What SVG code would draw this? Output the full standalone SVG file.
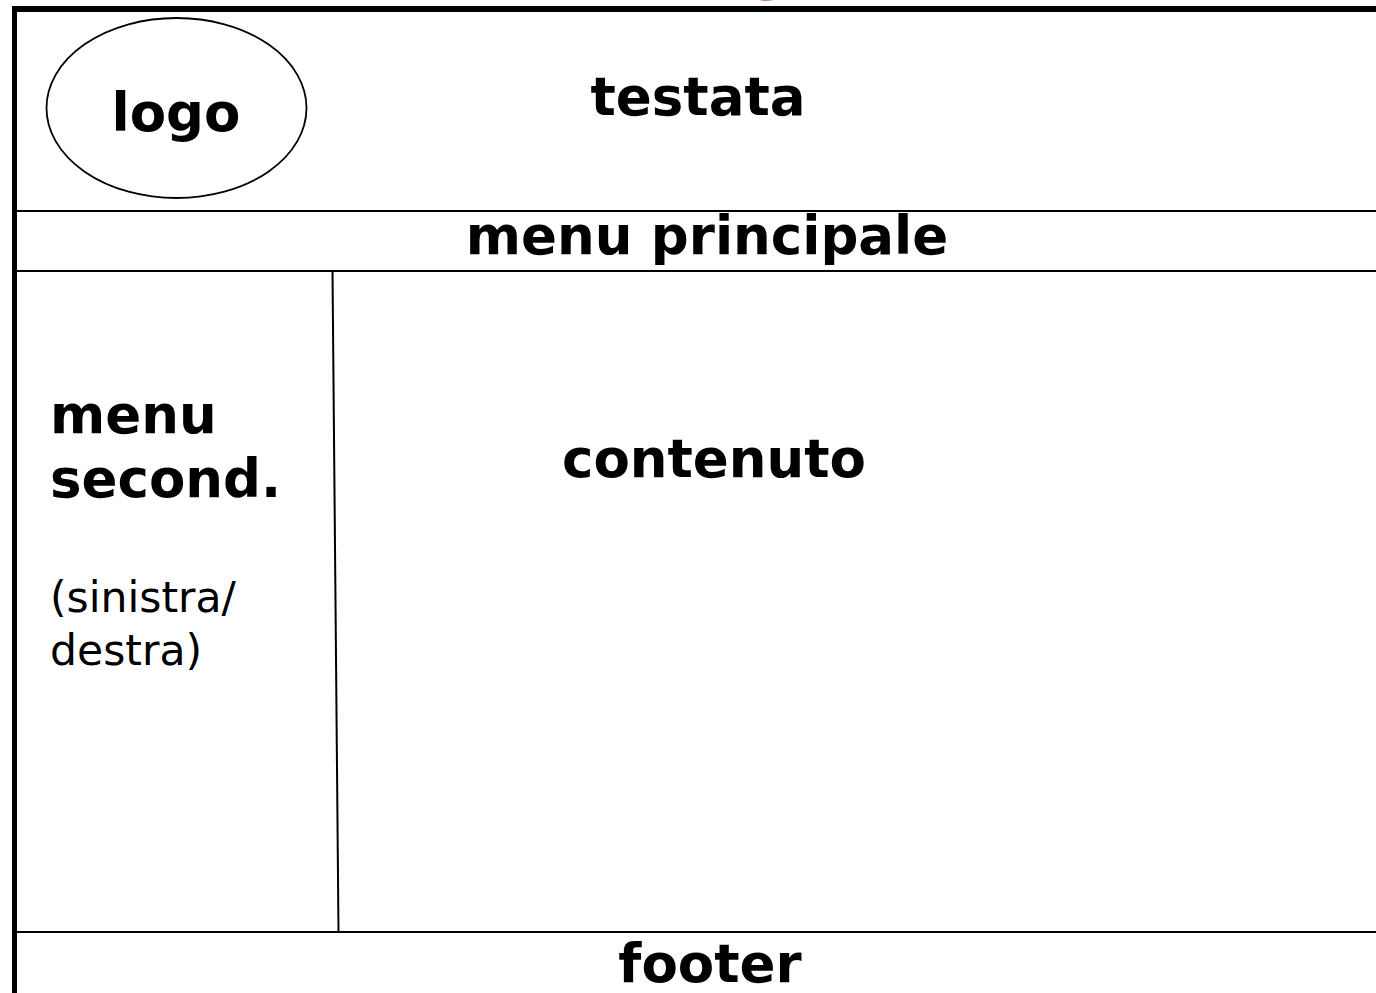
<svg xmlns="http://www.w3.org/2000/svg" width="1376" height="993" viewBox="0 0 1376 993">
<style>
.b{font-family:"DejaVu Sans",Verdana,sans-serif;font-weight:bold;font-size:53px;fill:#000}
.r{font-family:"DejaVu Sans",Verdana,sans-serif;font-size:42.5px;fill:#000}
.ln{stroke:#000;stroke-width:2;fill:none}
</style>
<rect width="1376" height="993" fill="#fff"/>
<text x="651" y="-14" style="font-family:'DejaVu Sans',sans-serif;font-weight:bold;font-size:68px;fill:#990033">pagina</text>
<g id="frame">
<line x1="14.5" y1="9" x2="14.5" y2="993" stroke="#000" stroke-width="5"/>
<line x1="12" y1="9" x2="1376" y2="9" stroke="#000" stroke-width="6"/>
</g>
<g id="connectors">
<line class="ln" x1="17" y1="211" x2="1376" y2="211"/>
<line class="ln" x1="17" y1="271" x2="1376" y2="271"/>
<line class="ln" x1="17" y1="932" x2="1376" y2="932"/>
<line class="ln" x1="332.5" y1="271" x2="338.5" y2="932"/>
</g>
<g id="testata">
<text class="b" x="698" y="115" text-anchor="middle">testata</text>
</g>
<g id="logo">
<ellipse cx="176.5" cy="108" rx="130" ry="90" fill="none" stroke="#000" stroke-width="1.8"/>
<text class="b" x="176" y="131" text-anchor="middle">logo</text>
</g>
<g id="menu-principale">
<text class="b" x="707" y="254" text-anchor="middle">menu principale</text>
</g>
<g id="menu-second">
<text class="b" x="50" y="433">menu</text>
<text class="b" x="50" y="497">second.</text>
<text class="r" x="50" y="612">(sinistra/</text>
<text class="r" x="50" y="665">destra)</text>
</g>
<g id="contenuto">
<text class="b" x="714" y="477" text-anchor="middle">contenuto</text>
</g>
<g id="footer">
<text class="b" x="710" y="982" text-anchor="middle">footer</text>
</g>
</svg>
